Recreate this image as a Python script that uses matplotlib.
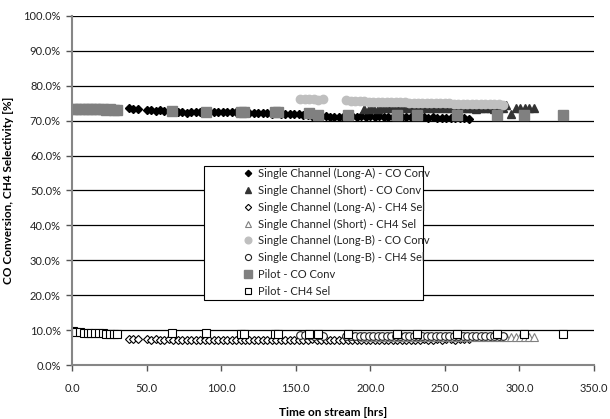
import matplotlib
matplotlib.use("Agg")
import matplotlib.pyplot as plt
from matplotlib.patches import Rectangle
from matplotlib.ticker import FuncFormatter, MultipleLocator

plt.rcParams["font.family"] = ["Lato", "DejaVu Sans"]

# Single channel (Long-A)
long_a_hrs = [38, 41, 44,
              50, 53, 56, 59, 62, 65, 68, 71, 74, 77, 80, 83, 86, 89, 92, 95,
              98, 101, 104, 107, 110, 113, 116, 119, 122, 125, 128, 131, 134, 137, 140,
              143, 146, 149, 152, 155, 158, 161, 164, 167, 170, 173, 176, 179, 182, 185,
              188, 191, 194, 197, 200, 203, 206, 209, 212, 215, 218, 221, 224, 227, 230,
              233, 236, 239, 242, 245, 248, 251, 254, 257, 260, 263, 266]
long_a_co = [73.5, 73.4, 73.4,
             73.0, 73.0, 72.9, 73.0, 72.9, 72.9, 72.8, 72.6, 72.4, 72.3, 72.4, 72.5, 72.6, 72.6, 72.5, 72.6,
             72.5, 72.5, 72.4, 72.5, 72.4, 72.3, 72.4, 72.3, 72.3, 72.2, 72.1, 72.2, 72.0, 72.1, 72.0,
             71.9, 71.8, 71.9, 71.8, 71.7, 71.5, 71.3, 71.2, 71.2, 71.3, 71.2, 71.1, 71.2, 71.1, 71.2,
             71.3, 71.2, 71.3, 71.2, 71.3, 71.2, 71.3, 71.2, 71.1, 71.2, 71.2, 71.1, 71.2, 71.0, 71.1,
             71.0, 71.1, 70.9, 71.0, 70.9, 70.9, 70.8, 70.9, 70.8, 70.7, 70.8, 70.6]
long_a_ch4 = [7.5, 7.4, 7.4,
              7.4, 7.3, 7.4, 7.3, 7.3, 7.4, 7.3, 7.2, 7.3, 7.3, 7.2, 7.3, 7.3, 7.2, 7.3, 7.3,
              7.2, 7.3, 7.3, 7.2, 7.3, 7.2, 7.3, 7.3, 7.2, 7.3, 7.3, 7.2, 7.3, 7.3, 7.2,
              7.3, 7.3, 7.2, 7.3, 7.3, 7.3, 7.4, 7.3, 7.3, 7.2, 7.3, 7.3, 7.3, 7.2, 7.3,
              7.3, 7.3, 7.2, 7.3, 7.3, 7.3, 7.2, 7.3, 7.3, 7.3, 7.3, 7.2, 7.3, 7.3, 7.3,
              7.3, 7.4, 7.3, 7.3, 7.4, 7.3, 7.4, 7.4, 7.3, 7.4, 7.4, 7.4]

# Single channel (Short)
short_hrs = [196, 199, 202, 205, 208, 211, 214, 217, 220, 223, 226, 229, 232, 235, 238, 241,
             244, 247, 250, 253, 256, 259, 262, 265, 268, 271, 274, 277, 280, 283, 286, 289,
             291, 294.5, 297.5, 300.5, 303.5, 306.5, 309.5]
short_co = [73.3, 73.4, 73.5, 73.4, 73.6, 73.5, 73.6, 73.5, 73.7, 73.6, 73.5, 73.6, 73.7, 73.6, 73.5, 73.6,
            73.7, 73.6, 73.5, 73.6, 73.5, 73.6, 73.5, 73.6, 73.5, 73.4, 73.5, 73.6, 73.5, 73.4, 73.5, 73.5,
            74.6, 71.8, 73.5, 73.6, 73.5, 73.6, 73.5]
short_ch4 = [8.0, 8.1, 8.0, 8.1, 8.0, 8.0, 8.1, 8.0, 8.0, 8.1, 8.0, 8.0, 8.1, 8.0, 8.0, 8.1,
             8.0, 8.0, 8.1, 8.0, 8.0, 8.1, 8.0, 8.0, 8.0, 8.1, 8.0, 8.0, 8.1, 8.0, 8.0, 8.0,
             8.1, 8.0, 8.0, 8.1, 8.0, 8.0, 8.0]

# Single channel (Long-B)
long_b_hrs = [153, 156, 159, 162, 165, 168,
              184, 187, 190, 193, 196, 199, 202, 205, 208, 211, 214, 217, 220, 223, 226, 229,
              232, 235, 238, 241, 244, 247, 250, 253, 256, 259, 262, 265, 268, 271, 274, 277,
              280, 283, 286, 289]
long_b_co = [76.2, 76.1, 76.2, 76.1, 76.0, 76.1,
             75.8, 75.7, 75.7, 75.6, 75.6, 75.5, 75.5, 75.5, 75.4, 75.4, 75.4, 75.3, 75.3, 75.3, 75.2, 75.2,
             75.2, 75.1, 75.1, 75.1, 75.0, 75.0, 75.0, 75.0, 74.9, 74.9, 74.9, 74.9, 74.8, 74.8, 74.8, 74.8,
             74.7, 74.7, 74.7, 74.6]
long_b_ch4 = [8.6, 8.5, 8.5, 8.4, 8.5, 8.4,
              8.3, 8.3, 8.2, 8.3, 8.3, 8.2, 8.3, 8.3, 8.2, 8.3, 8.2, 8.3, 8.3, 8.2, 8.3, 8.2,
              8.3, 8.2, 8.3, 8.3, 8.2, 8.3, 8.2, 8.3, 8.3, 8.2, 8.3, 8.2, 8.3, 8.3, 8.2, 8.3,
              8.2, 8.3, 8.3, 8.2]

# Pilot
pilot_hrs = [0.5, 3, 5.5, 8, 10.5, 13, 15.5, 18, 20.5, 23, 25.5, 28, 30.5,
             67, 90, 113, 115, 136, 138, 159, 165, 185, 218, 231, 258, 285, 303, 329]
pilot_co = [73.3, 73.4, 73.3, 73.4, 73.3, 73.3, 73.4, 73.3, 73.3, 73.2, 73.3, 73.2, 73.2,
            72.9, 72.6, 72.6, 72.5, 72.6, 72.4, 72.3, 71.6, 71.6, 71.6, 71.6, 71.6, 71.6, 71.6, 71.6]
pilot_ch4 = [9.8, 9.5, 9.4, 9.3, 9.3, 9.2, 9.2, 9.1, 9.1, 9.0, 9.0, 9.0, 9.0,
             9.1, 9.1, 9.0, 9.0, 9.0, 9.0, 9.0, 9.0, 9.0, 8.9, 8.9, 8.9, 8.9, 8.9, 8.9]

series = [
    (long_a_hrs, long_a_co, "Single Channel (Long-A) - CO Conv",
     dict(marker="D", ms=4, mfc="black", mec="black")),
    (short_hrs, short_co, "Single Channel (Short) - CO Conv",
     dict(marker="^", ms=6, mfc="#333333", mec="#333333")),
    (long_a_hrs, long_a_ch4, "Single Channel (Long-A) - CH4 Sel",
     dict(marker="D", ms=4, mfc="white", mec="black", mew=0.8)),
    (short_hrs, short_ch4, "Single Channel (Short) - CH4 Sel",
     dict(marker="^", ms=6, mfc="white", mec="#808080", mew=0.8)),
    (long_b_hrs, long_b_co, "Single Channel (Long-B) - CO Conv",
     dict(marker="o", ms=6, mfc="#bfbfbf", mec="#bfbfbf")),
    (long_b_hrs, long_b_ch4, "Single Channel (Long-B) - CH4 Sel",
     dict(marker="o", ms=5.5, mfc="white", mec="#222222", mew=0.8)),
    (pilot_hrs, pilot_co, "Pilot - CO Conv",
     dict(marker="s", ms=6.5, mfc="#808080", mec="#808080")),
    (pilot_hrs, pilot_ch4, "Pilot - CH4 Sel",
     dict(marker="s", ms=6, mfc="white", mec="black", mew=0.8)),
]

fig = plt.figure(figsize=(6.1, 4.19), dpi=100)
ax = fig.add_axes([72 / 610, 1 - 365 / 419, 522 / 610, 349 / 419])

for x, y, label, style in series:
    ax.plot(x, y, linestyle="none", label=label, **style)

ax.set_xlim(0, 350)
ax.set_ylim(0, 100)
ax.xaxis.set_major_locator(MultipleLocator(50))
ax.yaxis.set_major_locator(MultipleLocator(10))
ax.xaxis.set_major_formatter(FuncFormatter(lambda v, p: f"{v:.1f}"))
ax.yaxis.set_major_formatter(FuncFormatter(lambda v, p: f"{v:.1f}%"))

ax.set_axisbelow(True)
ax.grid(axis="y", color="black", linewidth=0.9)
for side in ["top", "right"]:
    ax.spines[side].set_visible(False)
for side in ["left", "bottom"]:
    ax.spines[side].set_color("#868686")
    ax.spines[side].set_linewidth(1.5)
ax.tick_params(axis="both", direction="out", length=4, width=1, color="#555555",
               labelsize=8, labelcolor="#222222", pad=4)
ax.tick_params(axis="x", pad=9)

ax.set_xlabel("Time on stream [hrs]", fontsize=8.5, fontweight="bold", labelpad=9)
ax.set_ylabel("CO Conversion, CH4 Selectivity [%]", fontsize=8.5, fontweight="bold", labelpad=7)

# legend box drawn separately, entries sit inside it
frame = Rectangle((204 / 610, 1 - 300 / 419), 219 / 610, 134 / 419, transform=fig.transFigure,
                  facecolor="white", edgecolor="black", linewidth=0.8, zorder=4)
ax.add_artist(frame)
leg = ax.legend(loc="upper left", bbox_to_anchor=(243.5 / 610, 1 - 168 / 419),
                bbox_transform=fig.transFigure, frameon=False, fontsize=8,
                borderpad=0, borderaxespad=0, handlelength=0.8, handletextpad=0.5,
                labelspacing=0.52, numpoints=1, markerscale=0.8)
leg.set_zorder(5)
for t in leg.get_texts():
    t.set_color("#222222")

fig.savefig("out.png", dpi=100)
